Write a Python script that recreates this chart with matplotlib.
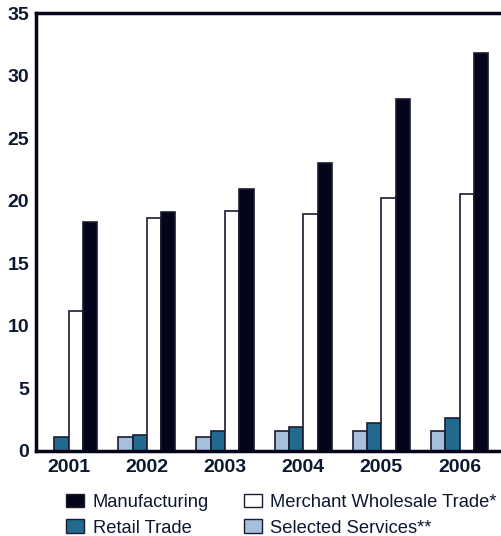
import numpy as np
import matplotlib
matplotlib.use('Agg')
import matplotlib.pyplot as plt
from matplotlib.patches import Patch

years = ['2001', '2002', '2003', '2004', '2005', '2006']
selected_services = [0, 1.1, 1.1, 1.6, 1.6, 1.6]
retail_trade = [1.1, 1.3, 1.6, 1.9, 2.2, 2.6]
merchant_wholesale = [11.2, 18.6, 19.2, 18.9, 20.2, 20.5]
manufacturing = [18.3, 19.1, 20.9, 23.0, 28.1, 31.8]

dark = '#04041a'
teal = '#236a91'
light = '#a5bfdc'
text_col = '#0c1830'

plt.rcParams['font.family'] = ['Liberation Sans', 'DejaVu Sans']

fig = plt.figure(figsize=(5.01, 5.36), dpi=100)
ax = fig.add_axes([0.0719, 0.1586, 0.9281, 0.8171])

x = np.arange(len(years))
w = 0.183
edge = dict(edgecolor='#1b1b30', linewidth=1.2)
ax.bar(x - 1.5 * w, selected_services, w, color=light, **edge)
ax.bar(x - 0.5 * w, retail_trade, w, color=teal, **edge)
ax.bar(x + 0.5 * w, merchant_wholesale, w, color='white', **edge)
ax.bar(x + 1.5 * w, manufacturing, w, color=dark, **edge)

ax.set_xlim(-0.418, 5.53)
ax.set_ylim(0, 35)
ax.set_yticks(range(0, 36, 5))
ax.set_xticks(x)
ax.set_xticklabels(years)
ax.tick_params(length=0, labelsize=14, colors=text_col, pad=5)
ax.tick_params(axis='x', pad=6)
for lbl in ax.get_xticklabels() + ax.get_yticklabels():
    lbl.set_fontweight('bold')

for s in ['left', 'top', 'bottom']:
    ax.spines[s].set_linewidth(2.5)
    ax.spines[s].set_color(dark)
ax.spines['right'].set_visible(False)

handles = [
    Patch(facecolor=dark, edgecolor='#1b1b30', label='Manufacturing'),
    Patch(facecolor=teal, edgecolor='#1b1b30', label='Retail Trade'),
    Patch(facecolor='white', edgecolor='#1b1b30', label='Merchant Wholesale Trade*'),
    Patch(facecolor=light, edgecolor='#1b1b30', label='Selected Services**'),
]
leg = fig.legend(handles=handles, ncol=2, loc='upper left',
                 bbox_to_anchor=(0.1317, 0.079), frameon=False,
                 fontsize=13.2, handlelength=1.0, handleheight=0.78,
                 handletextpad=0.45, columnspacing=1.9, labelspacing=0.46,
                 borderpad=0.0, borderaxespad=0.0)
for t in leg.get_texts():
    t.set_color(text_col)

fig.savefig('out.png', dpi=100)
